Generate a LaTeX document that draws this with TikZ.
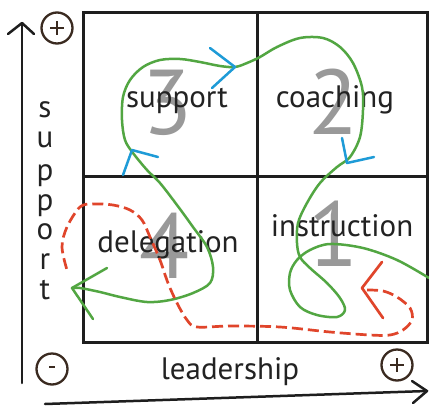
\documentclass[tikz,border=0pt]{standalone}
\usepackage{fontspec}
\setmainfont{PT Sans}
\usetikzlibrary{calc}
\definecolor{boxcol}{HTML}{1E1E1E}
\definecolor{txtcol}{HTML}{222222}
\definecolor{digcol}{HTML}{999999}
\definecolor{grn}{HTML}{52A642}
\definecolor{blu}{HTML}{1E9BD7}
\definecolor{rd}{HTML}{E0452B}
\definecolor{circcol}{HTML}{3A2A20}
\begin{document}
\begin{tikzpicture}[x=1pt,y=-1pt,
  lbl/.style={font=\fontsize{31}{31}\selectfont, text=txtcol, inner sep=0pt, anchor=mid},
  dig/.style={font=\fontsize{92}{92}\selectfont, text=digcol, inner sep=0pt},
  frame/.style={draw=boxcol, line width=3pt},
  axis/.style={draw=boxcol, line width=2.5pt, line cap=round, line join=round},
  sign/.style={draw=circcol, line width=2.3pt, circle, minimum size=31pt, inner sep=0pt},
  greenline/.style={draw=grn, line width=2.5pt, line cap=round, line join=round},
  blueline/.style={draw=blu, line width=2.5pt, line cap=round, line join=round},
  redline/.style={draw=rd, line width=2.7pt, dash pattern=on 11pt off 5pt},
  redarrow/.style={draw=rd, line width=2.7pt, line cap=round, line join=round}]
\useasboundingbox (0,0) rectangle (429,405);
\fill[white] (0,0) rectangle (429,405);

% big digits
\node[dig] (d3) at (168,103) {3};
\node[dig] (d2) at (334,102) {2};
\node[dig] (d4) at (165,246) {4};
\node[dig] (d1) at (334,234) {1};

% grid
\draw[frame] (83,12) rectangle (427,342);
\draw[frame] (257,12) -- (257,342);
\draw[frame] (83,176) -- (427,176);

% quadrant labels
\node[lbl] (q3) at (177,105) {support};
\node[lbl] (q2) at (335,105) {coaching};
\node[lbl] (q4) at (168,250) {delegation};
\node[lbl] (q1) at (342,234) {instruction};

% axes
\coordinate (vb) at (22,383);
\coordinate (vt) at (22,23);
\draw[axis] (vb) -- (vt);
\draw[axis] (8,34) -- (vt) -- (34,34);
\coordinate (hb) at (45,404);
\coordinate (ht) at (427,391);
\draw[axis] (hb) -- (ht);
\draw[axis] (412,381) -- (ht) -- (413,403);

% signs
\node[sign] (plusT) at (57,28) {};
\draw[circcol, line width=2pt] ($(plusT)+(-7,0)$) -- ($(plusT)+(7,0)$) ($(plusT)+(0,-7)$) -- ($(plusT)+(0,7)$);
\node[sign] (minus) at (52,369) {};
\draw[circcol, line width=2pt] ($(minus)+(-3,-2)$) -- ($(minus)+(3,-2)$);
\node[sign] (plusB) at (397,365) {};
\draw[circcol, line width=2pt] ($(plusB)+(-7,0)$) -- ($(plusB)+(7,0)$) ($(plusB)+(0,-7)$) -- ($(plusB)+(0,7)$);

% vertical support
\foreach \ch/\yy [count=\i] in {s/115,u/145,p/178,p/208,o/237,r/267,t/297}
  \node[lbl] (v\i) at (45,\yy) {\ch};

\node[lbl] (lead) at (230,377) {leadership};

% green path
\draw[greenline] plot[smooth, tension=0.55] coordinates {
 (429,278) (397,260) (363,248) (330,244) (310,250) (297,260) (290,273) (290,290)
 (300,307) (317,315) (337,317) (345,310) (340,298) (327,283) (310,268) (300,257)
 (297,243) (298,223) (307,203) (320,183) (337,167) (350,157) (360,137) (363,110)
 (362,87) (353,63) (340,47) (323,38) (300,38) (277,47) (260,57) (247,63) (235,67)
 (220,66) (200,62) (180,59) (160,60) (143,67) (130,80) (123,97) (122,120) (125,140)
 (133,153) (147,170) (160,183) (177,205) (193,227) (207,247) (213,267) (210,283)
 (193,293) (170,300) (147,302) (120,297) (100,292) (80,288) (72,288)};
\coordinate (gtip) at (72,288);
\draw[greenline] (107,268) -- (gtip) -- (93,319);

% blue arrowheads
\coordinate (b1) at (235,67);
\draw[blueline] (210,48) -- (b1) -- (212,88);
\coordinate (b2) at (347,163);
\draw[blueline] (342,138) -- (b2) -- (374,157);
\coordinate (b3) at (132,150);
\draw[blueline] (123,175) -- (b3) -- (158,157);

% red dashed path
\draw[redline] plot[smooth, tension=0.55] coordinates {
 (367,290) (383,291) (397,297) (410,308) (412,320) (403,330) (390,335) (370,335)
 (330,332) (280,327) (230,326) (197,327) (187,320) (177,303) (168,283) (160,260)
 (150,237) (142,220) (130,210) (113,205) (93,204) (80,207) (67,227) (62,247) (67,270)};
\coordinate (rtip) at (362,288);
\draw[redarrow] (382,262) -- (rtip) -- (383,318);
\end{tikzpicture}
\end{document}
